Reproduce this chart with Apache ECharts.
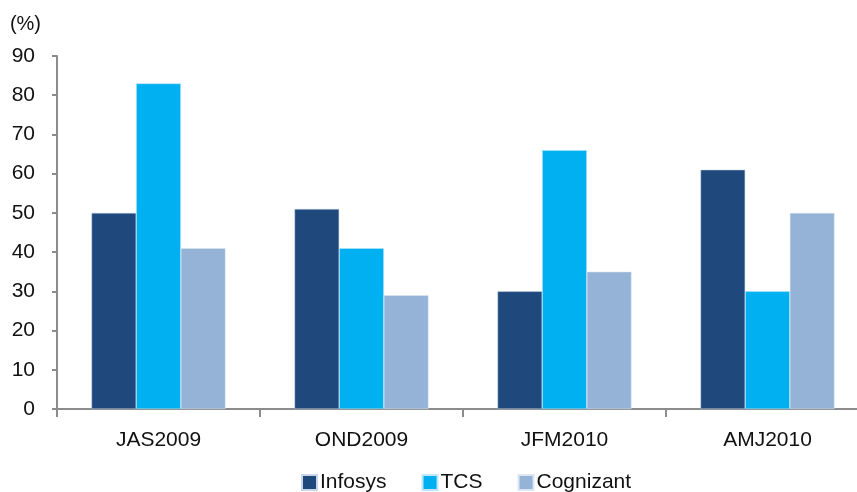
<!DOCTYPE html>
<html>
<head>
<meta charset="utf-8">
<script src="https://cdn.jsdelivr.net/npm/echarts@6/dist/echarts.min.js"></script>
<style>
  html, body { margin: 0; padding: 0; background: #fff; overflow: hidden; }
  #main { width: 869px; height: 492px; }
</style>
</head>
<body>
<div id="main"></div>
<script>
// quarters
var quarters = ['JAS2009', 'OND2009', 'JFM2010', 'AMJ2010'];
var infosys = [50, 51, 30, 61];
var tcs = [83, 41, 66, 30];
var cognizant = [41, 29, 35, 50];

var font = '"Liberation Sans", Arial, sans-serif';
var axisGray = '#8c8c8c';

// the plot runs a little past the right edge of the picture, so the canvas is wider than the window
var chart = echarts.init(document.getElementById('main'));
chart.setOption({
    animation: false,
    grid: { left: 57, right: 0, top: 56, bottom: 83 },
    legend: {
        top: 467,
        left: 296,
        itemWidth: 15,
        itemHeight: 15,
        itemGap: 35,
        icon: 'rect',
        textStyle: { fontFamily: font, fontSize: 21, color: '#111', padding: [0, 0, 0, -2] },
        data: ['Infosys', 'TCS', 'Cognizant']
    },
    xAxis: {
        type: 'category',
        data: quarters,
        axisLine: { lineStyle: { color: axisGray, width: 2 } },
        axisTick: { show: true, length: 8, lineStyle: { color: axisGray, width: 2 } },
        axisLabel: { fontFamily: font, fontSize: 21, color: '#111', margin: 21 }
    },
    yAxis: {
        type: 'value',
        min: 0, max: 90, interval: 10,
        name: '(%)',
        nameLocation: 'end',
        nameGap: 22,
        nameTextStyle: { fontFamily: font, fontSize: 20, color: '#111', align: 'right', padding: [0, 16, 0, 0] },
        splitLine: { show: false },
        axisLine: { show: true, lineStyle: { color: axisGray, width: 2 } },
        axisTick: { show: true, length: 5, lineStyle: { color: axisGray, width: 2 } },
        axisLabel: { fontFamily: font, fontSize: 21, color: '#111', margin: 22 }
    },
    series: [
        { name: 'Infosys', type: 'bar', data: infosys, barGap: 0, barCategoryGap: '34%',
          itemStyle: { color: '#1f497d', borderColor: '#c9d6ea', borderWidth: 0.5 } },
        { name: 'TCS', type: 'bar', data: tcs,
          itemStyle: { color: '#00b0f0', borderColor: '#bfe6fa', borderWidth: 0.5 } },
        { name: 'Cognizant', type: 'bar', data: cognizant,
          itemStyle: { color: '#95b3d7', borderColor: '#dde7f3', borderWidth: 0.5 } }
    ]
});
</script>
</body>
</html>
